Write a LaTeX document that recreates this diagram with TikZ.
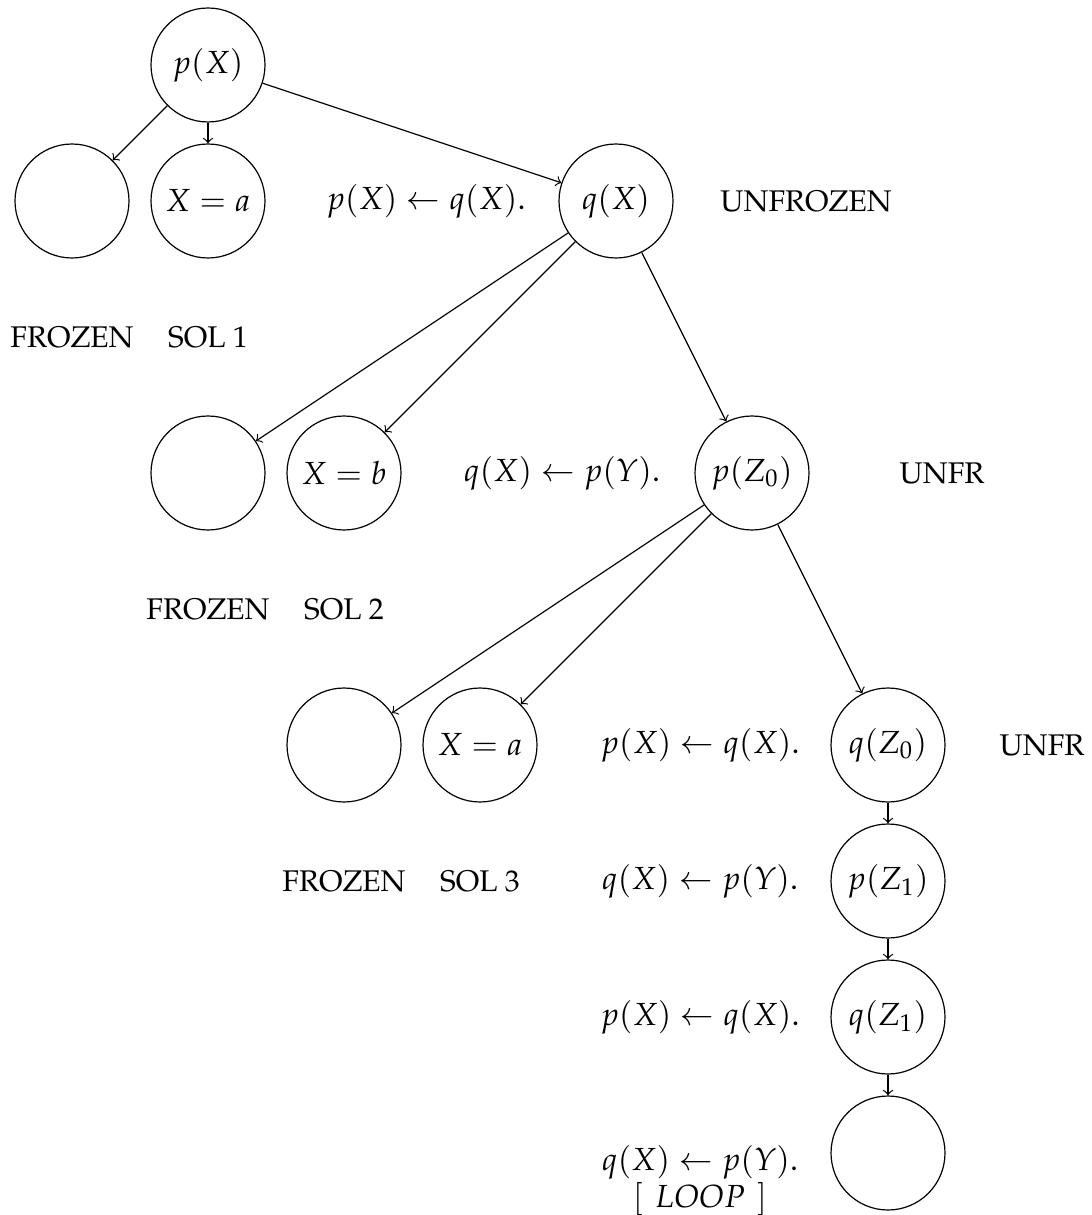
\documentclass[tikz,border=0pt]{standalone}
\usepackage[T1]{fontenc}
\usepackage{mathpazo}
\begin{document}
\begin{tikzpicture}[x=0.3347pt,y=-0.3347pt,
  st/.style={circle,draw,minimum size=38.15pt,inner sep=0pt,font=\fontsize{10.7}{12.8}\selectfont},
  lbl/.style={inner sep=0pt},
  mlbl/.style={inner sep=0pt,font=\fontsize{10.7}{12.8}\selectfont},
  edge/.style={->}]
\useasboundingbox (0,0) rectangle (1091,1215);
% row 0
\node[st] (pX) at (208,65) {$p(X)$};
% row 1
\node[st] (e1) at (72,201) {};
\node[st] (xa1) at (208,201) {$X=a$};
\node[mlbl] (t1) at (426,201) {$p(X)\leftarrow q(X).$};
\node[st] (qX) at (616,201) {$q(X)$};
\node[lbl] (u1) at (806,201) {UNFROZEN};
\node[lbl] (f1) at (72,337) {FROZEN};
\node[lbl] (s1) at (208,337) {SOL 1};
% row 2
\node[st] (e2) at (208,473) {};
\node[st] (xb) at (344,473) {$X=b$};
\node[mlbl] (t2) at (562,473) {$q(X)\leftarrow p(Y).$};
\node[st] (pZ0) at (752,473) {$p(Z_0)$};
\node[lbl] (u2) at (942,473) {UNFR};
\node[lbl] (f2) at (208,609) {FROZEN};
\node[lbl] (s2) at (344,609) {SOL 2};
% row 3
\node[st] (e3) at (344,745) {};
\node[st] (xa3) at (480,745) {$X=a$};
\node[mlbl] (t3) at (700,745) {$p(X)\leftarrow q(X).$};
\node[st] (qZ0) at (888,745) {$q(Z_0)$};
\node[lbl] (u3) at (1042,745) {UNFR};
\node[lbl] (f3) at (344,881) {FROZEN};
\node[lbl] (s3) at (480,881) {SOL 3};
% chain
\node[mlbl] (t4) at (700,881) {$q(X)\leftarrow p(Y).$};
\node[st] (pZ1) at (888,881) {$p(Z_1)$};
\node[mlbl] (t5) at (700,1017) {$p(X)\leftarrow q(X).$};
\node[st] (qZ1) at (888,1017) {$q(Z_1)$};
\node[mlbl,anchor=base] (t6) at (700,1170) {$q(X)\leftarrow p(Y).$};
\node[mlbl,anchor=base] (loop) at (700,1207) {$[\hspace{4pt}LOOP\hspace{4pt}]$};
\node[st] (e4) at (888,1153) {};
% edges
\draw[edge] (pX) -- (e1);
\draw[edge] (pX) -- (xa1);
\draw[edge] (pX) -- (qX);
\draw[edge] (qX) -- (e2);
\draw[edge] (qX) -- (xb);
\draw[edge] (qX) -- (pZ0);
\draw[edge] (pZ0) -- (e3);
\draw[edge] (pZ0) -- (xa3);
\draw[edge] (pZ0) -- (qZ0);
\draw[edge] (qZ0) -- (pZ1);
\draw[edge] (pZ1) -- (qZ1);
\draw[edge] (qZ1) -- (e4);
\end{tikzpicture}
\end{document}
